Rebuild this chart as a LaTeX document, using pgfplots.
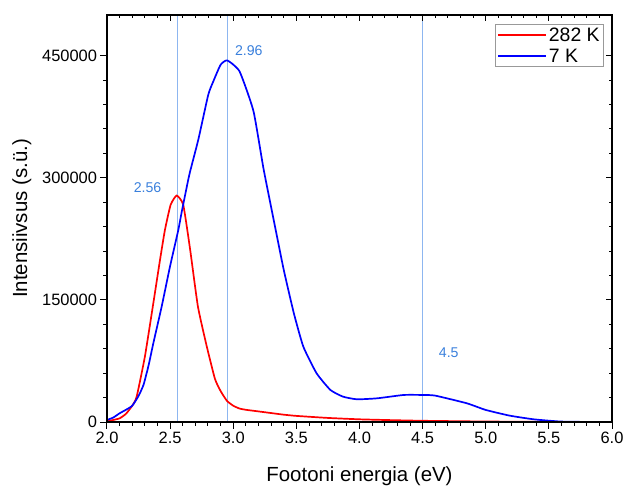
\documentclass[border=0pt]{standalone}
\usepackage{pgfplots}
\pgfplotsset{compat=1.18}
\usepackage{fontspec}
\setmainfont{Liberation Sans}
\definecolor{vline}{HTML}{8DB6F0}
\definecolor{annot}{HTML}{3A80DC}
\begin{document}
\begin{tikzpicture}[x=1bp,y=1bp]
\begin{axis}[
  at={(0bp,0bp)}, anchor=origin,
  width=505bp, height=407bp, scale only axis,
  xmin=2, xmax=6, ymin=0, ymax=500000,
  xtick={2,2.5,...,6}, minor x tick num=4,
  ytick={0,150000,300000,450000}, minor y tick num=4,
  xtick pos=bottom, ytick pos=left,
  tick align=outside,
  major tick length=6.5bp, minor tick length=3.5bp,
  every tick/.style={black, line width=1bp},
  axis line style={line width=1.3bp},
  scaled y ticks=false,
  /pgf/number format/assume math mode=true,
  xticklabel style={/pgf/number format/.cd, fixed, fixed zerofill, precision=1},
  yticklabel style={/pgf/number format/.cd, fixed, 1000 sep={}},
  tick label style={font=\fontsize{16.5}{19}\selectfont},
  xlabel={Footoni energia (eV)},
  ylabel={Intensiivsus (s.ü.)},
  every axis x label/.style={at={(axis description cs:0.5,-0.1467)}, anchor=base, font=\fontsize{20.5}{24}\selectfont},
  every axis y label/.style={at={(axis description cs:-0.1584,0.5)}, anchor=base, rotate=90, font=\fontsize{20.5}{24}\selectfont},
  legend style={at={(0.984,0.977)}, anchor=north east, draw=gray!80, line width=0.5bp,
    font=\fontsize{19.5}{22}\selectfont, inner xsep=2bp, inner ysep=1bp,
    row sep=2bp, cells={anchor=west}},
  legend image code/.code={\draw[#1] (0bp,0bp) -- (48bp,0bp);},
  clip=true,
]
% vertical reference lines
\addplot[vline, line width=0.8bp, forget plot] coordinates {(2.555,0) (2.555,500000)};
\addplot[vline, line width=0.8bp, forget plot] coordinates {(2.955,0) (2.955,500000)};
\addplot[vline, line width=0.8bp, forget plot] coordinates {(4.5,0) (4.5,500000)};
% 282 K
\addplot[red, line width=1.7bp, smooth, tension=0.3] coordinates {
(2.00,1000) (2.05,2500) (2.10,4500) (2.15,10000) (2.20,20000) (2.235,31100) (2.30,80300)
(2.367,146000) (2.42,199200) (2.459,236000) (2.504,266800) (2.552,278200) (2.604,266800)
(2.657,213600) (2.72,142000) (2.79,93000) (2.855,53000) (2.90,38000)
(2.95,26000) (3.00,20000) (3.05,16500) (3.10,15000) (3.20,13000) (3.30,11000)
(3.40,9000) (3.50,7500) (3.75,5000) (4.00,3300) (4.25,2300) (4.50,1500) (5.00,600)
(5.50,200) (6.00,0)};
% 7 K
\addplot[blue, line width=1.7bp, smooth, tension=0.3] coordinates {
(2.00,2500) (2.05,5500) (2.10,10700) (2.15,15000) (2.20,20000) (2.25,32000) (2.29,46000)
(2.33,70000) (2.367,96800)
(2.433,141800) (2.499,191000) (2.565,236000) (2.59,256600) (2.652,303700) (2.723,346700)
(2.802,402000) (2.842,418400) (2.90,438900) (2.953,444200) (3.05,430700) (3.16,382000)
(3.24,311000) (3.32,248400) (3.40,186900) (3.48,133600) (3.555,92600) (3.66,59900)
(3.77,39300) (3.87,31100) (3.98,27900) (4.14,29100) (4.35,33200) (4.505,33200)
(4.60,32400) (4.85,23000) (5.00,14800) (5.19,7800) (5.38,3300) (5.59,600) (5.80,100) (6.00,0)};
\legend{282 K, 7 K}
\node[annot, anchor=base, font=\fontsize{14.2}{17}\selectfont] at (axis cs:2.321,281600) {2.56};
\node[annot, anchor=base, font=\fontsize{14.2}{17}\selectfont] at (axis cs:3.123,450400) {2.96};
\node[annot, anchor=base, font=\fontsize{14.2}{17}\selectfont] at (axis cs:4.707,79500) {4.5};
\end{axis}
% mirror ticks on top and right, pointing inward
\begin{axis}[
  at={(0bp,0bp)}, anchor=origin,
  width=505bp, height=407bp, scale only axis,
  xmin=2, xmax=6, ymin=0, ymax=500000,
  xtick={2,2.5,...,6}, minor x tick num=4,
  ytick={0,150000,300000,450000}, minor y tick num=4,
  xtick pos=top, ytick pos=right,
  tick align=inside,
  major tick length=6.5bp, minor tick length=3.5bp,
  every tick/.style={black, line width=1bp},
  axis line style={line width=1.3bp},
  xticklabels={}, yticklabels={},
  scaled y ticks=false,
]
\end{axis}
\pgfresetboundingbox
\path (-107bp,-65bp) rectangle (517bp,422bp);
\end{tikzpicture}
\end{document}
